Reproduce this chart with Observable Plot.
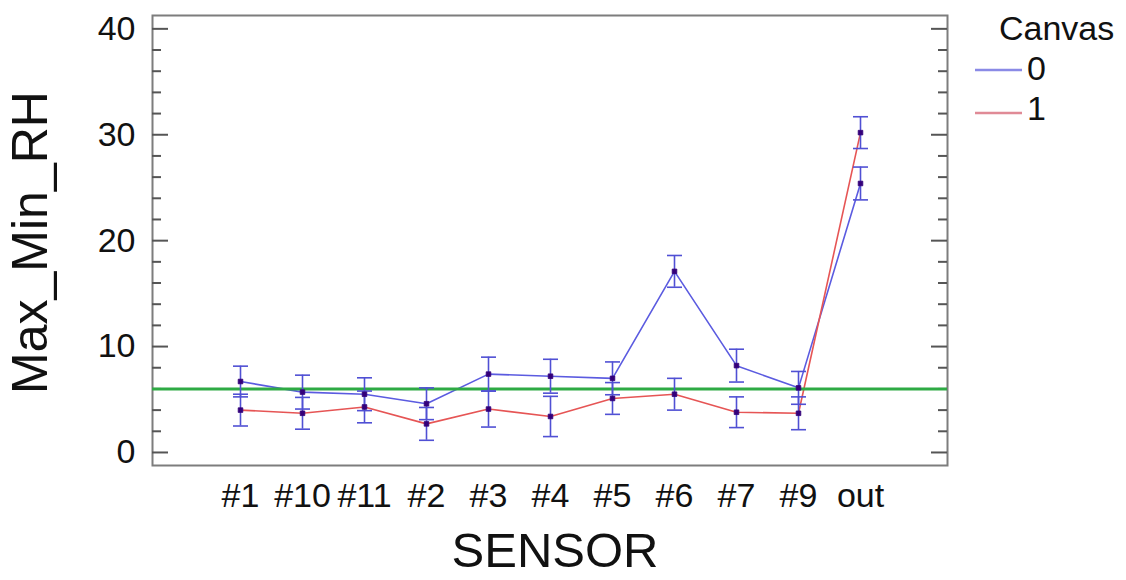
<!DOCTYPE html>
<html>
<head>
<meta charset="utf-8">
<script src="https://cdn.jsdelivr.net/npm/d3@7"></script>
<script src="https://cdn.jsdelivr.net/npm/@observablehq/plot@0.6"></script>
<style>
  html, body { margin: 0; padding: 0; background: #fff; }
  #wrap { position: relative; width: 1126px; height: 580px; font-family: "Liberation Sans", Arial, sans-serif; }
  #legend { position: absolute; left: 0; top: 0; }
  #legend .title { position: absolute; left: 999px; top: 11px; font-size: 34px; line-height: 1; color: #111; }
  #legend .item { position: absolute; left: 975px; height: 34px; }
  #legend .item svg { position: absolute; left: 0; top: 0; }
  #legend .item span { position: absolute; left: 52px; top: 0; font-size: 34px; line-height: 1; color: #111; }
</style>
</head>
<body>
<div id="wrap"></div>
<script>
// Sensors along the x axis
const sensors = ["#1", "#10", "#11", "#2", "#3", "#4", "#5", "#6", "#7", "#9", "out"];

// Mean Max_Min_RH per sensor, for each Canvas level
const canvas0 = [6.7, 5.7, 5.5, 4.6, 7.4, 7.2, 7.0, 17.1, 8.2, 6.1, 25.4];
const canvas1 = [4.0, 3.7, 4.3, 2.7, 4.1, 3.4, 5.1, 5.5, 3.8, 3.7, 30.2];

// Half-widths of the interval bars around each mean
const half0 = [1.45, 1.6, 1.55, 1.5, 1.6, 1.6, 1.55, 1.5, 1.55, 1.55, 1.55];
const half1 = [1.5, 1.5, 1.5, 1.55, 1.7, 1.9, 1.5, 1.5, 1.45, 1.55, 1.5];

// Reference level drawn across the plot
const refLevel = [6];

// Y axis ticks
const yMajor = [0, 10, 20, 30, 40];
const yMinor = [2, 4, 6, 8, 12, 14, 16, 18, 22, 24, 26, 28, 32, 34, 36, 38];

// Legend entries
const canvasKeys = ["0", "1"];
const lineColors = ["#5b5be0", "#e65555"];
const legendColors = ["#8a8ae6", "#e08a96"];

const rows = [];
[canvas0, canvas1].forEach((vals, s) => {
  const half = s === 0 ? half0 : half1;
  sensors.forEach((sensor, i) => {
    rows.push({sensor, canvas: canvasKeys[s], value: vals[i], lo: vals[i] - half[i], hi: vals[i] + half[i]});
  });
});

// Horizontal cap for the interval bars
const capSymbol = {
  draw(context, size) {
    const w = Math.sqrt(size / Math.PI);
    context.moveTo(-w, 0);
    context.lineTo(w, 0);
  }
};

const W = 1126, H = 580;
const mL = 152, mR = 179, mT = 15, mB = 115;
const innerW = W - mL - mR;

const chart = Plot.plot({
  width: W,
  height: H,
  marginLeft: mL,
  marginRight: mR,
  marginTop: mT,
  marginBottom: mB,
  style: {fontFamily: "'Liberation Sans', Arial, sans-serif", color: "#111", background: "#fff", overflow: "visible"},
  x: {type: "point", domain: sensors, padding: 1.377},
  y: {domain: [-1.23, 41.26]},
  marks: [
    Plot.frame({stroke: "#7d7d7d", strokeWidth: 2}),
    // inward ticks on both sides of the frame
    Plot.tickY(yMajor, {y: d => d, insetRight: innerW - 16, stroke: "#555", strokeWidth: 2}),
    Plot.tickY(yMinor, {y: d => d, insetRight: innerW - 9, stroke: "#555", strokeWidth: 2}),
    Plot.tickY(yMajor, {y: d => d, insetLeft: innerW - 16, stroke: "#555", strokeWidth: 2}),
    Plot.tickY(yMinor, {y: d => d, insetLeft: innerW - 9, stroke: "#555", strokeWidth: 2}),
    Plot.axisY({ticks: yMajor, tickSize: 0, tickPadding: 17, fontSize: 34, label: null}),
    Plot.axisX({tickSize: 0, tickPadding: 17, fontSize: 34, label: null}),
    Plot.text(["Max_Min_RH"], {frameAnchor: "left", textAnchor: "middle", rotate: -90, dx: -141, dy: 2, lineAnchor: "top", fontSize: 50, fill: "#111"}),
    Plot.text(["SENSOR"], {frameAnchor: "bottom", dx: 5, dy: 67, lineAnchor: "top", fontSize: 49, fill: "#111"}),
    // mean lines
    Plot.line(rows.filter(d => d.canvas === "0"), {x: "sensor", y: "value", stroke: lineColors[0], strokeWidth: 1.6}),
    Plot.line(rows.filter(d => d.canvas === "1"), {x: "sensor", y: "value", stroke: lineColors[1], strokeWidth: 1.6}),
    Plot.ruleY(refLevel, {stroke: "#2eaa44", strokeWidth: 3}),
    // interval bars
    Plot.ruleX(rows, {x: "sensor", y1: "lo", y2: "hi", stroke: "#5050d4", strokeWidth: 1.6}),
    Plot.dot(rows, {x: "sensor", y: "lo", symbol: capSymbol, r: 7.5, stroke: "#5050d4", strokeWidth: 1.6, fill: "none"}),
    Plot.dot(rows, {x: "sensor", y: "hi", symbol: capSymbol, r: 7.5, stroke: "#5050d4", strokeWidth: 1.6, fill: "none"}),
    // mean markers
    Plot.dot(rows, {x: "sensor", y: "value", symbol: "square", r: 2.6, fill: "#34007a", stroke: "#34007a", strokeWidth: 0.8})
  ]
});

const wrap = document.getElementById("wrap");
wrap.appendChild(chart);

// Legend to the right of the plot
const legend = document.createElement("div");
legend.id = "legend";
const title = document.createElement("div");
title.className = "title";
title.textContent = "Canvas";
legend.appendChild(title);
canvasKeys.forEach((k, i) => {
  const item = document.createElement("div");
  item.className = "item";
  item.style.top = (51 + i * 40) + "px";
  item.innerHTML = `<svg width="50" height="34"><line x1="0" x2="47" y1="${19 + i * 3}" y2="${19 + i * 3}" stroke="${legendColors[i]}" stroke-width="2.5"/></svg><span>${k}</span>`;
  legend.appendChild(item);
});
wrap.appendChild(legend);
</script>
</body>
</html>
